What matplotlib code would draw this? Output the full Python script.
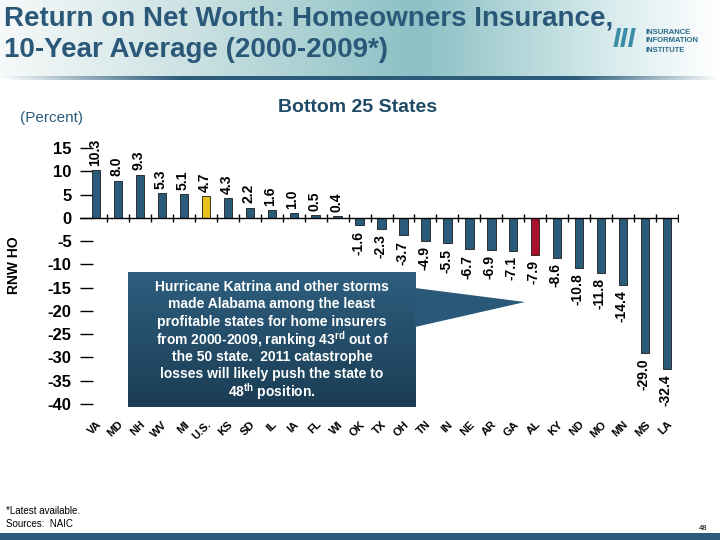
import numpy as np
import matplotlib
matplotlib.use("Agg")
import matplotlib.pyplot as plt
from matplotlib.colors import LinearSegmentedColormap
from matplotlib.patches import Polygon

plt.rcParams['font.family'] = ['Liberation Sans', 'DejaVu Sans']
plt.rcParams['mathtext.fontset'] = 'custom'
plt.rcParams['mathtext.bf'] = 'Liberation Sans:bold'
plt.rcParams['mathtext.rm'] = 'Liberation Sans:bold'

# datos
states = ["VA", "MD", "NH", "WV", "MI", "U.S.", "KS", "SD", "IL", "IA", "FL", "WI",
          "OK", "TX", "OH", "TN", "IN", "NE", "AR", "GA", "AL", "KY", "ND", "MO",
          "MN", "MS", "LA"]
rnw = [10.3, 8.0, 9.3, 5.3, 5.1, 4.7, 4.3, 2.2, 1.6, 1.0, 0.5, 0.4, -1.6, -2.3,
       -3.7, -4.9, -5.5, -6.7, -6.9, -7.1, -7.9, -8.6, -10.8, -11.8, -14.4,
       -29.0, -32.4]
yticks = [15, 10, 5, 0, -5, -10, -15, -20, -25, -30, -35, -40]

callout_lines = [
    "Hurricane Katrina and other storms",
    "made Alabama among the least",
    "profitable states for home insurers",
    "from 2000-2009, ranking 43$^{\\mathbf{rd}}$ out of",
    "the 50 state.  2011 catastrophe",
    "losses will likely push the state to",
    "48$^{\\mathbf{th}}$ position.",
]

BLUE = "#2B5B7A"
DARK = "#1F4A66"

W, H = 720, 540
fig = plt.figure(figsize=(7.2, 5.4), dpi=100)


def fx(px):
    return px / W


def fy(py):
    return 1 - py / H


# cabecera con degradado
head = fig.add_axes([0, fy(78), 1, 78 / H])
cmap_head = LinearSegmentedColormap.from_list(
    "head", [(0, "#F6F9F9"), (0.25, "#CFE3E4"), (0.58, "#8BC0C4"),
             (0.85, "#D8EBEC"), (1, "#FFFFFF")])
head.imshow(np.linspace(0, 1, 256)[None, :], aspect='auto', cmap=cmap_head,
            extent=[0, 1, 0, 1])
head.axis('off')

# linea oscura bajo la cabecera
line_ax = fig.add_axes([0, fy(80), 1, 4 / H])
grad = np.linspace(0, 1, 256)
alpha = np.clip(np.minimum(grad / 0.25, (1 - grad) / 0.2), 0, 1)
rgba = np.zeros((1, 256, 4))
rgba[..., 0], rgba[..., 1], rgba[..., 2] = 0x2B / 255, 0x5B / 255, 0x7A / 255
rgba[..., 3] = alpha
line_ax.imshow(rgba, aspect='auto', extent=[0, 1, 0, 1])
line_ax.axis('off')

# banda inferior
foot = fig.add_axes([0, 0, 1, 7 / H])
foot.set_facecolor(BLUE)
foot.set_xticks([])
foot.set_yticks([])
for s in foot.spines.values():
    s.set_visible(False)

fig.text(fx(4), fy(18), "Return on Net Worth: Homeowners Insurance,", fontsize=20,
         fontweight='bold', color="#2A5878", va='center', ha='left')
fig.text(fx(4), fy(50), "10-Year Average (2000-2009*)", fontsize=20,
         fontweight='bold', color="#2A5878", va='center', ha='left')

# logo
fig.text(fx(613), fy(40), "III", fontsize=20, fontweight='bold', style='italic',
         color="#3C8CA8", va='center', ha='left')
for k, t in enumerate(["INSURANCE", "INFORMATION", "INSTITUTE"]):
    fig.text(fx(645), fy(32 + k * 9), t, fontsize=5.5, fontweight='bold',
             color="#2B6A8A", va='center', ha='left')

fig.text(fx(358), fy(107), "Bottom 25 States", fontsize=14, fontweight='bold',
         color=DARK, ha='center', va='center')
fig.text(fx(20), fy(118), "(Percent)", fontsize=11, color=BLUE,
         ha='left', va='center')
fig.text(fx(14), fy(265), "RNW HO", fontsize=10, fontweight='bold',
         rotation=90, ha='center', va='center', color='black')

fig.text(fx(6), fy(511), "*Latest available.", fontsize=7, va='center', ha='left')
fig.text(fx(6), fy(524), "Sources:  NAIC", fontsize=7, va='center', ha='left')
fig.text(fx(703), fy(528), "48", fontsize=5.5, va='center', ha='center')

# grafico principal
ax = fig.add_axes([fx(80), fy(404), fx(678) - fx(80), (404 - 148) / H])
x = np.arange(len(states))
colors = [BLUE] * len(states)
colors[states.index("U.S.")] = "#E6C21C"
colors[states.index("AL")] = "#A8122C"
ax.bar(x, rnw, width=0.38, color=colors, edgecolor="#1A1A1A", linewidth=0.6,
       zorder=2)

for xi, v in zip(x, rnw):
    if v >= 0:
        ax.annotate(f"{v:.1f}", (xi, v), xytext=(-1, 3), textcoords='offset points',
                    rotation=90, ha='center', va='bottom', fontsize=10,
                    fontweight='bold')
    else:
        ax.annotate(f"{v:.1f}", (xi, v), xytext=(-1, -4), textcoords='offset points',
                    rotation=90, ha='center', va='top', fontsize=10,
                    fontweight='bold')

ax.set_xlim(-0.73, len(states) - 0.5)
ax.set_ylim(-40, 15)
ax.axhline(0, color='black', lw=1, zorder=3)
bounds = np.arange(len(states)) + 0.5
ax.plot(bounds, np.zeros_like(bounds), ls='none', marker='|', ms=6,
        mew=1, color='black', zorder=3)

ax.set_yticks(yticks)
ax.set_yticklabels([str(t) for t in yticks], fontsize=12, fontweight='bold')
ax.tick_params(axis='y', direction='in', length=9, width=1, pad=6)
ax.set_xticks(x)
ax.set_xticklabels(states, rotation=45, ha='right', va='top',
                   rotation_mode='anchor', fontsize=8, fontweight='bold')
ax.tick_params(axis='x', length=0, pad=11)
for s in ax.spines.values():
    s.set_visible(False)
ax.set_facecolor('none')

# cuadro de texto
box = fig.add_axes([fx(128), fy(407), fx(416) - fx(128), (407 - 272) / H])
cmap_box = LinearSegmentedColormap.from_list("box", ["#2E5E7E", "#1B3D55"])
box.imshow(np.linspace(0, 1, 64)[:, None], aspect='auto', cmap=cmap_box,
           extent=[0, 1, 0, 1])
box.axis('off')
tri = Polygon([[fx(415), fy(288)], [fx(525), fy(302)], [fx(415), fy(327)]],
              closed=True, transform=fig.transFigure, facecolor="#2A5878",
              edgecolor='none')
fig.patches.append(tri)
for k, t in enumerate(callout_lines):
    fig.text(fx(272), fy(287 + k * 17.4), t, fontsize=10, fontweight='bold',
             color='white', ha='center', va='center')

fig.savefig("out.png", dpi=100)
